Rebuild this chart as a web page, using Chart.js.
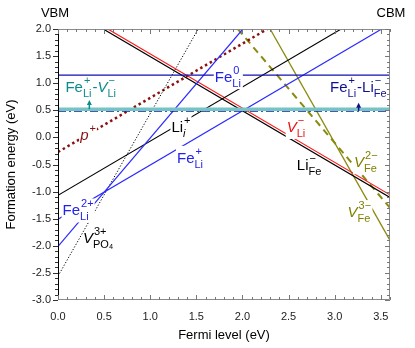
<!DOCTYPE html>
<html>
<head>
<meta charset="utf-8">
<script src="https://cdn.jsdelivr.net/npm/chart.js@4.4.1/dist/chart.umd.min.js"></script>
<style>
  html, body { margin: 0; padding: 0; background: #fff; }
  #wrap { width: 415px; height: 348px; }
</style>
</head>
<body>
<div id="wrap"><canvas id="chart" width="415" height="348"></canvas></div>
<script>
// endpoints of each formation-energy line (Fermi level, energy)
const efFeLi2 = [0, 2.005];   const eFeLi2 = [-2.01, 2.0];
const efFeLi1 = [0, 3.51];    const eFeLi1 = [-1.51, 2.0];
const efFeLi0 = [0, 3.6];     const eFeLi0 = [1.15, 1.15];
const efLiI = [0, 3.07];      const eLiI = [-1.07, 2.0];
const efLiFe = [0.49, 3.6];   const eLiFe = [2.0, -1.11];
const efVLi = [0.54, 3.6];    const eVLi = [2.0, -1.06];
const efVPO4 = [0, 1.52];     const eVPO4 = [-2.56, 2.0];
const efHole = [0, 2.27];     const eHole = [-0.27, 2.0];
const efVFe2 = [1.95, 3.6];   const eVFe2 = [2.0, -1.3];
const efVFe3 = [2.30, 3.6];   const eVFe3 = [2.0, -1.9];
const efCplxV = [0, 3.6];     const eCplxV = [0.52, 0.52];   // Fe_Li+ - V_Li-
const efCplxLi = [0, 3.6];    const eCplxLi = [0.49, 0.49];  // Fe_Li+ - Li_Fe-

const xTicks = [0, 0.5, 1.0, 1.5, 2.0, 2.5, 3.0, 3.5];
const yTicks = [-3.0, -2.5, -2.0, -1.5, -1.0, -0.5, 0.0, 0.5, 1.0, 1.5, 2.0];

const FONT = "'Liberation Sans', Arial, sans-serif";

function pts(xs, ys) {
    return xs.map((x, i) => ({ x: x, y: ys[i] }));
}

function line(xs, ys, color, width, dash) {
    return {
        data: pts(xs, ys),
        showLine: true,
        borderColor: color,
        borderWidth: width,
        borderDash: dash || [],
        pointRadius: 0,
        fill: false,
    };
}

// labels: position in data units, base text + sup/sub pieces
const labels = [
    { x: 0.08, y: 0.84, color: "#0a8c8c", segs: [{ b: "Fe", sup: "+", sub: "Li" }, { b: "-" }, { b: "V", it: true, sup: "\u2212", sub: "Li" }] },
    { x: 2.95, y: 0.84, color: "#10108c", segs: [{ b: "Fe", sup: "+", sub: "Li" }, { b: "-Li", sup: "\u2212", sub: "Fe" }] },
    { x: 1.70, y: 1.02, color: "#2222ee", bg: true, segs: [{ b: "Fe", sup: "0", sub: "Li" }] },
    { x: 1.29, y: -0.47, color: "#2222ee", bg: true, segs: [{ b: "Fe", sup: "+", sub: "Li" }] },
    { x: 1.23, y: 0.10, color: "#000", bg: true, segs: [{ b: "Li", sup: "+", sub: "i", subIt: true }] },
    { x: 2.48, y: 0.10, color: "#ee1111", bg: true, segs: [{ b: "V", it: true, sup: "\u2212", sub: "Li" }] },
    { x: 2.59, y: -0.60, color: "#000", segs: [{ b: "Li", sup: "\u2212", sub: "Fe" }] },
    { x: 3.21, y: -0.55, color: "#808000", bg: true, segs: [{ b: "V", it: true, sup: "2\u2212", sub: "Fe" }] },
    { x: 3.14, y: -1.47, color: "#808000", bg: true, segs: [{ b: "V", it: true, sup: "3\u2212", sub: "Fe" }] },
    { x: 0.05, y: -1.44, color: "#2222ee", bg: true, segs: [{ b: "Fe", sup: "2+", sub: "Li" }] },
    { x: 0.27, y: -1.95, color: "#000", segs: [{ b: "V", it: true, sup: "3+", sub: "PO\u2084" }] },
    { x: 0.24, y: -0.05, color: "#8b1010", bg: true, segs: [{ b: "p", it: true, sup: "+" }] },
];

// small arrows pointing up from the complex lines
const arrows = [
    { x: 0.34, y0: 0.52, y1: 0.69, color: "#0a8c8c" },
    { x: 3.26, y0: 0.49, y1: 0.64, color: "#10108c" },
];

function drawRich(ctx, px, py, lab) {
    const size = 15, small = 11;
    let x = px;
    const pieces = [];
    lab.segs.forEach(s => {
        const f = (s.it ? "italic " : "") + size + "px " + FONT;
        ctx.font = f;
        const w = ctx.measureText(s.b).width;
        pieces.push({ t: s.b, f: f, x: x, y: py });
        x += w;
        let w2 = 0;
        if (s.sup) {
            const fs = small + "px " + FONT;
            ctx.font = fs;
            w2 = Math.max(w2, ctx.measureText(s.sup).width);
            pieces.push({ t: s.sup, f: fs, x: x + 1, y: py - 8 });
        }
        if (s.sub) {
            const fs = (s.subIt ? "italic " : "") + small + "px " + FONT;
            ctx.font = fs;
            w2 = Math.max(w2, ctx.measureText(s.sub).width);
            pieces.push({ t: s.sub, f: fs, x: x, y: py + 5 });
        }
        x += w2 + (w2 ? 1 : 0);
    });
    if (lab.bg) {
        ctx.fillStyle = "#fff";
        ctx.fillRect(px - 1, py - 17, x - px + 2, 24);
    }
    ctx.fillStyle = lab.color;
    ctx.textBaseline = "alphabetic";
    ctx.textAlign = "left";
    pieces.forEach(p => {
        ctx.font = p.f;
        ctx.fillText(p.t, p.x, p.y);
    });
}

const framePlugin = {
    id: "frame",
    afterDatasetsDraw(chart) {
        const ctx = chart.ctx;
        const a = chart.chartArea;
        const xs = chart.scales.x, ys = chart.scales.y;
        ctx.save();

        // labels on top of lines
        labels.forEach(l => {
            drawRich(ctx, xs.getPixelForValue(l.x), ys.getPixelForValue(l.y), l);
        });

        // arrows
        arrows.forEach(ar => {
            const px = xs.getPixelForValue(ar.x);
            const p0 = ys.getPixelForValue(ar.y0);
            const p1 = ys.getPixelForValue(ar.y1);
            ctx.strokeStyle = ar.color;
            ctx.fillStyle = ar.color;
            ctx.lineWidth = 1.5;
            ctx.beginPath();
            ctx.moveTo(px, p0);
            ctx.lineTo(px, p1 + 3);
            ctx.stroke();
            ctx.beginPath();
            ctx.moveTo(px, p1);
            ctx.lineTo(px - 2.5, p1 + 5);
            ctx.lineTo(px + 2.5, p1 + 5);
            ctx.closePath();
            ctx.fill();
        });

        // frame
        ctx.lineWidth = 1;
        ctx.strokeStyle = "#8a8a8a";
        ctx.beginPath();
        ctx.moveTo(a.left, a.top + 0.5);
        ctx.lineTo(a.right - 0.5, a.top + 0.5);
        ctx.lineTo(a.right - 0.5, a.bottom - 0.5);
        ctx.lineTo(a.left, a.bottom - 0.5);
        ctx.stroke();
        ctx.strokeStyle = "#000";
        ctx.beginPath();
        ctx.moveTo(a.left + 0.5, a.top);
        ctx.lineTo(a.left + 0.5, a.bottom);
        ctx.stroke();

        // minor/major ticks
        for (let i = 0; i <= 36; i++) {
            const v = i / 10;
            const len = i % 5 === 0 ? 5 : 3;
            const px = Math.round(xs.getPixelForValue(v)) + 0.5;
            ctx.strokeStyle = "#777";
            ctx.beginPath();
            ctx.moveTo(px, a.bottom);
            ctx.lineTo(px, a.bottom - len);
            ctx.moveTo(px, a.top);
            ctx.lineTo(px, a.top + len);
            ctx.stroke();
        }
        for (let i = -30; i <= 20; i++) {
            const v = i / 10;
            const len = i % 5 === 0 ? 5 : 3;
            const py = Math.round(ys.getPixelForValue(v)) + 0.5;
            ctx.strokeStyle = "#333";
            ctx.beginPath();
            ctx.moveTo(a.left, py);
            ctx.lineTo(a.left - len, py);
            ctx.stroke();
            ctx.strokeStyle = "#777";
            ctx.beginPath();
            ctx.moveTo(a.right, py);
            ctx.lineTo(a.right - len, py);
            ctx.stroke();
        }

        // titles and band-edge markers
        ctx.fillStyle = "#000";
        ctx.font = "13px " + FONT;
        ctx.textAlign = "center";
        ctx.textBaseline = "middle";
        ctx.fillText("Fermi level (eV)", (a.left + a.right) / 2, 335);
        ctx.fillText("VBM", a.left - 3, 13);
        ctx.fillText("CBM", a.right + 1, 13);
        ctx.save();
        ctx.translate(11, (a.top + a.bottom) / 2);
        ctx.rotate(-Math.PI / 2);
        ctx.fillText("Formation energy (eV)", 0, 0);
        ctx.restore();

        ctx.restore();
    }
};

window.addEventListener("load", () => {
    const ctx = document.getElementById("chart").getContext("2d");
    new Chart(ctx, {
        type: "scatter",
        data: {
            datasets: [
                line(efCplxV, eCplxV, "#74c4c4", 3.5),
                line(efCplxLi, eCplxLi, "#1a1aa0", 2, [8, 3, 2, 3]),
                line(efFeLi0, eFeLi0, "#1010b0", 1.3),
                line(efFeLi2, eFeLi2, "#2a2aff", 1.2),
                line(efFeLi1, eFeLi1, "#2a2aff", 1.2),
                line(efLiI, eLiI, "#000", 1.1),
                line(efLiFe, eLiFe, "#000", 1.2),
                line(efVLi, eVLi, "#ff1a1a", 1.2),
                line(efVPO4, eVPO4, "#000", 1, [1.2, 1.8]),
                line(efHole, eHole, "#8b1010", 2.5, [2.5, 3]),
                line(efVFe2, eVFe2, "#8a8a10", 2, [7, 5]),
                line(efVFe3, eVFe3, "#8a8a10", 1.3),
            ],
        },
        options: {
            responsive: false,
            animation: false,
            layout: { padding: { top: 29, right: 25, left: 0, bottom: 0 } },
            plugins: {
                legend: { display: false },
                tooltip: { enabled: false },
            },
            scales: {
                x: {
                    type: "linear",
                    min: 0,
                    max: 3.6,
                    afterFit(scale) { scale.height = 48; },
                    afterBuildTicks(scale) { scale.ticks = xTicks.map(v => ({ value: v })); },
                    grid: { display: false, drawTicks: false },
                    border: { display: false },
                    ticks: {
                        padding: 10,
                        color: "#222",
                        font: { family: FONT, size: 11 },
                        callback: v => v.toFixed(1),
                    },
                },
                y: {
                    type: "linear",
                    min: -3,
                    max: 2,
                    afterFit(scale) { scale.width = 58; },
                    afterBuildTicks(scale) { scale.ticks = yTicks.map(v => ({ value: v })); },
                    grid: { display: false, drawTicks: false },
                    border: { display: false },
                    ticks: {
                        padding: 7,
                        color: "#222",
                        font: { family: FONT, size: 11 },
                        callback: v => v.toFixed(1),
                    },
                },
            },
        },
        plugins: [framePlugin],
    });
});
</script>
</body>
</html>
